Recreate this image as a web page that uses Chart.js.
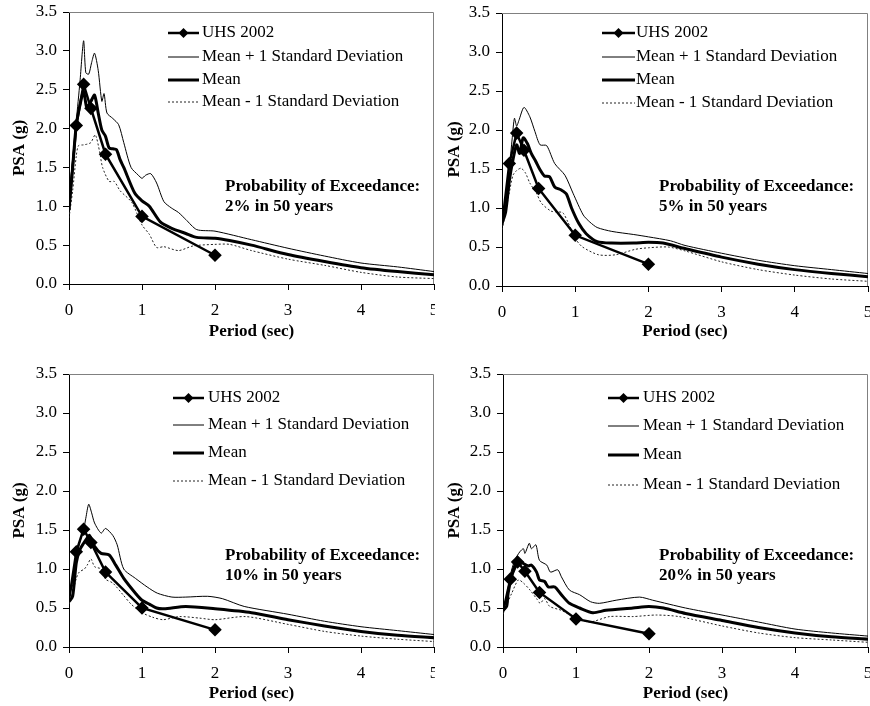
<!DOCTYPE html>
<html>
<head>
<meta charset="utf-8">
<script src="https://cdn.jsdelivr.net/npm/chart.js@4.4.1/dist/chart.umd.min.js"></script>
<style>
  html, body { margin: 0; padding: 0; background: #fff; }
  #wrap { position: relative; width: 870px; height: 706px; }
  #wrap canvas { position: absolute; }
</style>
</head>
<body>
<div id="wrap">
  <canvas id="c2" width="435" height="353" style="left:0;top:0"></canvas>
  <canvas id="c5" width="435" height="353" style="left:435px;top:0"></canvas>
  <canvas id="c10" width="435" height="353" style="left:0;top:353px"></canvas>
  <canvas id="c20" width="435" height="353" style="left:435px;top:353px"></canvas>
</div>
<script>
const legendLabels = ['UHS 2002', 'Mean + 1 Standard Deviation', 'Mean', 'Mean - 1 Standard Deviation'];
const xTicks = [0, 1, 2, 3, 4, 5];
const yTicks = [0, 0.5, 1, 1.5, 2, 2.5, 3, 3.5];

// UHS 2002 points (same periods in every panel)
const uhsPeriods = [0, 0.1, 0.2, 0.3, 0.5, 1, 2];
const uhs2 = [0.98, 2.04, 2.57, 2.26, 1.67, 0.87, 0.37];
const uhs5 = [0.78, 1.57, 1.96, 1.74, 1.25, 0.65, 0.28];
const uhs10 = [0.6, 1.22, 1.51, 1.34, 0.96, 0.5, 0.22];
const uhs20 = [0.45, 0.87, 1.09, 0.97, 0.7, 0.36, 0.17];

// 2% in 50 years
const p2MeanT = [0, 0.05, 0.1, 0.15, 0.2, 0.24, 0.27, 0.3, 0.35, 0.4, 0.45, 0.5, 0.55, 0.6, 0.65, 0.7, 0.75, 0.9, 1.0, 1.1, 1.25, 1.4, 1.6, 1.75, 2.0, 2.2, 2.5, 3, 3.5, 4, 4.5, 5];
const p2Mean = [0.95, 1.5, 2.05, 2.3, 2.48, 2.28, 2.3, 2.35, 2.43, 2.2, 1.98, 1.9, 1.75, 1.74, 1.73, 1.6, 1.5, 1.17, 1.07, 1.0, 0.8, 0.72, 0.65, 0.6, 0.59, 0.56, 0.5, 0.38, 0.29, 0.21, 0.16, 0.12];
const p2PlusT = [0, 0.05, 0.1, 0.15, 0.2, 0.23, 0.27, 0.31, 0.35, 0.4, 0.45, 0.48, 0.52, 0.6, 0.68, 0.75, 0.85, 0.95, 1.0, 1.05, 1.12, 1.2, 1.3, 1.4, 1.5, 1.6, 1.75, 2.0, 2.5, 3, 3.5, 4, 4.5, 5];
const p2Plus = [1.1, 1.6, 2.1, 2.6, 3.13, 2.72, 2.7, 2.85, 2.97, 2.75, 2.35, 2.45, 2.2, 2.13, 2.05, 1.82, 1.5, 1.4, 1.36, 1.4, 1.42, 1.3, 1.06, 0.98, 0.92, 0.83, 0.7, 0.68, 0.57, 0.46, 0.36, 0.27, 0.22, 0.16];
const p2MinusT = [0, 0.05, 0.1, 0.13, 0.2, 0.25, 0.3, 0.36, 0.42, 0.46, 0.55, 0.62, 0.7, 0.86, 1.0, 1.1, 1.2, 1.3, 1.5, 1.7, 2.0, 2.2, 2.5, 3, 3.5, 4, 4.5, 5];
const p2Minus = [0.85, 1.2, 1.65, 1.78, 1.79, 1.8, 1.82, 1.92, 1.7, 1.5, 1.32, 1.32, 1.2, 1.05, 0.76, 0.64, 0.47, 0.48, 0.43, 0.49, 0.51, 0.51, 0.43, 0.32, 0.24, 0.15, 0.09, 0.07];

// 5% in 50 years
const p5MeanT = [0, 0.05, 0.1, 0.15, 0.2, 0.24, 0.29, 0.35, 0.4, 0.46, 0.52, 0.58, 0.65, 0.72, 0.81, 0.88, 0.95, 1.05, 1.15, 1.3, 1.5, 1.8, 2.0, 2.2, 2.5, 3, 3.5, 4, 4.5, 5];
const p5Mean = [0.8, 0.95, 1.35, 1.62, 1.81, 1.7, 1.9, 1.82, 1.7, 1.6, 1.49, 1.41, 1.4, 1.27, 1.23, 1.18, 1.0, 0.8, 0.67, 0.57, 0.55, 0.55, 0.56, 0.55, 0.48, 0.37, 0.28, 0.21, 0.16, 0.12];
const p5PlusT = [0, 0.05, 0.1, 0.14, 0.17, 0.2, 0.23, 0.3, 0.38, 0.45, 0.52, 0.61, 0.72, 0.86, 0.97, 1.11, 1.2, 1.3, 1.5, 1.8, 2.0, 2.3, 2.5, 3, 3.5, 4, 4.5, 5];
const p5Plus = [0.88, 1.1, 1.5, 1.9, 2.15, 2.05, 2.12, 2.29, 2.17, 1.98, 1.81, 1.8, 1.57, 1.42, 1.19, 0.91, 0.82, 0.75, 0.7, 0.66, 0.63, 0.58, 0.52, 0.42, 0.33, 0.26, 0.21, 0.16];
const p5MinusT = [0, 0.05, 0.1, 0.15, 0.2, 0.26, 0.32, 0.38, 0.47, 0.54, 0.67, 0.75, 0.83, 0.9, 1.0, 1.1, 1.32, 1.55, 1.82, 2.0, 2.27, 2.5, 3, 3.5, 4, 4.5, 5];
const p5Minus = [0.72, 0.95, 1.2, 1.42, 1.48, 1.51, 1.45, 1.32, 1.19, 1.06, 0.96, 0.95, 0.94, 0.82, 0.61, 0.5, 0.4, 0.4, 0.47, 0.49, 0.5, 0.45, 0.31, 0.21, 0.14, 0.09, 0.06];

// 10% in 50 years
const p10MeanT = [0, 0.05, 0.1, 0.15, 0.2, 0.25, 0.28, 0.35, 0.44, 0.55, 0.64, 0.75, 0.91, 1.0, 1.1, 1.2, 1.3, 1.6, 2.0, 2.5, 3, 3.5, 4, 4.5, 5];
const p10Mean = [0.58, 0.65, 1.08, 1.25, 1.33, 1.4, 1.43, 1.29, 1.2, 1.18, 1.05, 0.88, 0.69, 0.6, 0.55, 0.5, 0.49, 0.52, 0.49, 0.44, 0.35, 0.27, 0.2, 0.15, 0.12];
const p10PlusT = [0, 0.05, 0.1, 0.15, 0.2, 0.23, 0.27, 0.31, 0.35, 0.44, 0.5, 0.6, 0.66, 0.75, 0.91, 1.07, 1.21, 1.41, 1.6, 1.9, 2.1, 2.4, 3, 3.5, 4, 4.5, 5];
const p10Plus = [0.65, 0.8, 1.15, 1.35, 1.5, 1.65, 1.83, 1.72, 1.59, 1.46, 1.52, 1.43, 1.31, 1.0, 0.88, 0.77, 0.69, 0.64, 0.64, 0.65, 0.62, 0.52, 0.42, 0.33, 0.26, 0.21, 0.16];
const p10MinusT = [0, 0.05, 0.1, 0.14, 0.21, 0.25, 0.3, 0.35, 0.44, 0.5, 0.6, 0.74, 0.85, 1.0, 1.15, 1.29, 1.51, 1.79, 2.0, 2.42, 3, 3.5, 4, 4.5, 5];
const p10Minus = [0.55, 0.7, 0.88, 0.96, 1.0, 1.05, 1.13, 1.03, 1.0, 0.87, 0.82, 0.67, 0.55, 0.44, 0.38, 0.35, 0.39, 0.37, 0.35, 0.39, 0.29, 0.2, 0.14, 0.1, 0.07];

// 20% in 50 years
const p20MeanT = [0, 0.05, 0.07, 0.14, 0.21, 0.28, 0.35, 0.39, 0.46, 0.5, 0.57, 0.62, 0.71, 0.8, 0.91, 1.05, 1.23, 1.41, 1.78, 2.0, 2.2, 2.5, 3, 3.5, 4, 4.5, 5];
const p20Mean = [0.47, 0.52, 0.69, 0.99, 1.11, 1.07, 1.04, 1.05, 0.96, 0.86, 0.84, 0.77, 0.77, 0.67, 0.56, 0.5, 0.44, 0.47, 0.5, 0.52, 0.5, 0.43, 0.34, 0.25, 0.18, 0.13, 0.1];
const p20PlusT = [0, 0.05, 0.1, 0.16, 0.23, 0.28, 0.3, 0.36, 0.39, 0.45, 0.5, 0.6, 0.65, 0.75, 0.8, 0.91, 1.05, 1.2, 1.32, 1.55, 1.87, 2.05, 2.5, 3, 3.5, 4, 4.5, 5];
const p20Plus = [0.5, 0.6, 0.92, 1.11, 1.22, 1.26, 1.2, 1.33, 1.26, 1.31, 1.11, 1.05, 0.96, 0.99, 0.9, 0.73, 0.67, 0.58, 0.56, 0.6, 0.64, 0.6, 0.5, 0.41, 0.32, 0.23, 0.18, 0.14];
const p20MinusT = [0, 0.05, 0.12, 0.21, 0.28, 0.37, 0.46, 0.51, 0.57, 0.64, 0.8, 1.0, 1.19, 1.46, 1.78, 2.1, 2.41, 3, 3.5, 4, 4.5, 5];
const p20Minus = [0.42, 0.54, 0.69, 0.86, 0.82, 0.73, 0.62, 0.56, 0.62, 0.52, 0.47, 0.37, 0.32, 0.39, 0.39, 0.41, 0.39, 0.27, 0.18, 0.12, 0.09, 0.06];

const panels = [
  { id: 'c2', note: '2% in 50 years', uhs: uhs2, meanT: p2MeanT, mean: p2Mean, plusT: p2PlusT, plus: p2Plus, minusT: p2MinusT, minus: p2Minus },
  { id: 'c5', note: '5% in 50 years', uhs: uhs5, meanT: p5MeanT, mean: p5Mean, plusT: p5PlusT, plus: p5Plus, minusT: p5MinusT, minus: p5Minus },
  { id: 'c10', note: '10% in 50 years', uhs: uhs10, meanT: p10MeanT, mean: p10Mean, plusT: p10PlusT, plus: p10Plus, minusT: p10MinusT, minus: p10Minus },
  { id: 'c20', note: '20% in 50 years', uhs: uhs20, meanT: p20MeanT, mean: p20Mean, plusT: p20PlusT, plus: p20Plus, minusT: p20MinusT, minus: p20Minus }
];

// where things sit inside each 435x353 panel
const frames = {
  c2:  { pad: { left: 9, top: 12, right: 1, bottom: 11 }, yW: 60, xH: 58, key: { x1: 168, x2: 199, tx: 202, rows: [33, 57, 80, 102] }, note: { x: 225, y: 187 } },
  c5:  { pad: { left: 9, top: 13, right: 2, bottom: 11 }, yW: 58, xH: 56, key: { x1: 167, x2: 200, tx: 201, rows: [33, 57, 80, 103] }, note: { x: 224, y: 187 } },
  c10: { pad: { left: 9, top: 21, right: 1, bottom: 2 }, yW: 60, xH: 57, key: { x1: 173, x2: 204, tx: 208, rows: [45, 72, 100, 128] }, note: { x: 225, y: 203 } },
  c20: { pad: { left: 9, top: 21, right: 2, bottom: 2 }, yW: 59, xH: 57, key: { x1: 173, x2: 204, tx: 208, rows: [45, 73, 102, 132] }, note: { x: 224, y: 203 } }
};

const FONT = "'Liberation Serif', 'Times New Roman', serif";
Chart.defaults.font.family = FONT;
Chart.defaults.font.size = 17;
Chart.defaults.color = '#000';

const pts = (xs, ys) => xs.map((x, i) => ({ x, y: ys[i] }));

// grey top/right edge of the plot area
const frameBorder = {
  id: 'frameBorder',
  beforeDatasetsDraw(chart) {
    const { ctx, chartArea: a } = chart;
    const r = Math.round(a.right) - 0.5, t = Math.round(a.top) + 0.5;
    ctx.save();
    ctx.strokeStyle = '#808080';
    ctx.lineWidth = 1;
    ctx.beginPath();
    ctx.moveTo(a.left, t);
    ctx.lineTo(r, t);
    ctx.lineTo(r, a.bottom);
    ctx.stroke();
    ctx.restore();
  }
};

// legend inside the plot, drawn from the dataset styles
const seriesKey = {
  id: 'seriesKey',
  afterDraw(chart, args, opts) {
    const { ctx } = chart;
    ctx.save();
    ctx.font = '17px ' + FONT;
    ctx.textBaseline = 'middle';
    ctx.fillStyle = '#000';
    chart.data.datasets.forEach((ds, i) => {
      const y = opts.rows[i];
      ctx.strokeStyle = ds.borderColor;
      ctx.lineWidth = ds.borderWidth;
      ctx.setLineDash(ds.borderDash || []);
      ctx.beginPath();
      ctx.moveTo(opts.x1, y);
      ctx.lineTo(opts.x2, y);
      ctx.stroke();
      ctx.setLineDash([]);
      if (ds.pointStyle === 'rectRot') {
        const cx = (opts.x1 + opts.x2) / 2, s = 5;
        ctx.beginPath();
        ctx.moveTo(cx, y - s);
        ctx.lineTo(cx + s, y);
        ctx.lineTo(cx, y + s);
        ctx.lineTo(cx - s, y);
        ctx.closePath();
        ctx.fill();
      }
      ctx.fillText(ds.label, opts.tx, y);
    });
    ctx.restore();
  }
};

const noteText = {
  id: 'noteText',
  afterDraw(chart, args, opts) {
    const { ctx } = chart;
    ctx.save();
    ctx.font = 'bold 17px ' + FONT;
    ctx.textBaseline = 'middle';
    ctx.fillStyle = '#000';
    ctx.fillText('Probability of Exceedance:', opts.x, opts.y);
    ctx.fillText(opts.text, opts.x, opts.y + 20);
    ctx.restore();
  }
};

function buildDatasets(p) {
  return [
    {
      label: legendLabels[0],
      data: pts(uhsPeriods, p.uhs),
      borderColor: '#000',
      backgroundColor: '#000',
      borderWidth: 2.5,
      pointStyle: 'rectRot',
      pointRadius: uhsPeriods.map(t => (t > 0 ? 5 : 0)),
      tension: 0
    },
    {
      label: legendLabels[1],
      data: pts(p.plusT, p.plus),
      borderColor: '#000',
      borderWidth: 1,
      pointRadius: 0,
      tension: 0.25
    },
    {
      label: legendLabels[2],
      data: pts(p.meanT, p.mean),
      borderColor: '#000',
      borderWidth: 3,
      pointRadius: 0,
      tension: 0.25
    },
    {
      label: legendLabels[3],
      data: pts(p.minusT, p.minus),
      borderColor: '#222',
      borderWidth: 1,
      borderDash: [2, 2],
      pointRadius: 0,
      tension: 0.25
    }
  ];
}

panels.forEach(p => {
  const f = frames[p.id];
  new Chart(document.getElementById(p.id), {
    type: 'line',
    data: { datasets: buildDatasets(p) },
    options: {
      responsive: false,
      animation: false,
      devicePixelRatio: 1,
      layout: { padding: f.pad, autoPadding: false },
      plugins: {
        legend: { display: false },
        tooltip: { enabled: false },
        seriesKey: f.key,
        noteText: { x: f.note.x, y: f.note.y, text: p.note }
      },
      scales: {
        x: {
          type: 'linear',
          min: 0,
          max: 5,
          afterBuildTicks: s => { s.ticks = xTicks.map(v => ({ value: v })); },
          afterFit: s => { s.height = f.xH; s.paddingLeft = 0; s.paddingRight = 0; },
          ticks: { autoSkip: false, maxRotation: 0, padding: 10, callback: v => String(v) },
          grid: { drawOnChartArea: false, tickLength: 6, color: '#000' },
          border: { color: '#000' },
          title: { display: true, text: 'Period (sec)', font: { weight: 'bold', size: 17 }, padding: 0 }
        },
        y: {
          min: 0,
          max: 3.5,
          afterBuildTicks: s => { s.ticks = yTicks.map(v => ({ value: v })); },
          afterFit: s => { s.width = f.yW; s.paddingTop = 0; s.paddingBottom = 0; },
          ticks: { autoSkip: false, padding: 6, callback: v => v.toFixed(1) },
          grid: { drawOnChartArea: false, tickLength: 6, color: '#000' },
          border: { color: '#000' },
          title: { display: true, text: 'PSA (g)', font: { weight: 'bold', size: 17 }, padding: 0 }
        }
      }
    },
    plugins: [frameBorder, seriesKey, noteText]
  });
});
</script>
</body>
</html>
